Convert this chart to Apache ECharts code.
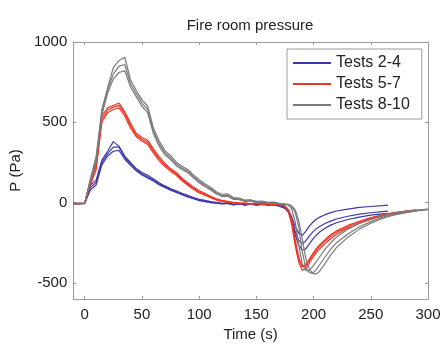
<!DOCTYPE html>
<html>
<head>
<meta charset="utf-8">
<script src="https://cdn.jsdelivr.net/npm/echarts@6/dist/echarts.min.js"></script>
<style>
  html, body { margin: 0; padding: 0; background: #fff; }
  #chart { width: 445px; height: 347px; }
</style>
</head>
<body>
<div id="chart"></div>
<script>
// sample times (s)
const times = [-10, -5, 0, 5, 10, 15, 20, 25, 30, 35, 40, 45, 50, 55, 60, 65, 70, 75, 80, 85,
  90, 95, 100, 105, 110, 115, 120, 125, 130, 135, 140, 145, 150, 155, 160, 165, 170, 175,
  178, 181, 184, 187, 190, 193, 196, 199, 202, 205, 210, 215, 220, 230, 240, 250, 260, 265,
  270, 280, 290, 300]

// Tests 2-4 (blue), pressure in Pa
const blue1 = [-8, -8, -6, 110, 140, 265, 320, 380, 350, 290, 250, 212, 188, 170, 148, 124, 104, 88, 74, 58,
  46, 32, 20, 14, 6, 2, -4, -2, -10, -6, -12, -8, -14, -8, -16, -10, -18, -28,
  -45, -90, -150, -190, -205, -180, -150, -125, -105, -92, -75, -62, -52, -40, -30, -24, -19, -16]
const blue2 = [-6, -6, -4, 95, 125, 250, 305, 345, 345, 282, 242, 205, 180, 160, 140, 118, 98, 82, 68, 52,
  40, 28, 16, 10, 2, -2, -6, -6, -12, -8, -14, -10, -12, -10, -14, -12, -20, -32,
  -55, -110, -180, -235, -255, -240, -210, -185, -165, -150, -130, -115, -102, -85, -72, -63, -56, -53]
const blue3 = [-5, -5, -4, 80, 110, 235, 290, 320, 325, 270, 232, 198, 172, 154, 134, 112, 94, 78, 64, 50,
  36, 24, 12, 6, 0, -4, -8, -4, -14, -6, -16, -8, -16, -12, -12, -14, -22, -36,
  -60, -120, -200, -265, -295, -290, -260, -230, -205, -185, -160, -140, -125, -105, -90, -78, -70, -66]

// Tests 5-7 (red)
const red1 = [-6, -6, -4, 140, 240, 540, 590, 605, 620, 565, 495, 432, 405, 388, 335, 286, 244, 212, 188, 152,
  124, 98, 74, 58, 40, 24, 14, 8, 2, -2, -4, -6, -2, -8, -4, -10, -10, -20,
  -45, -110, -230, -340, -400, -395, -365, -330, -300, -275, -240, -210, -185, -150, -122, -98, -80, -72,
  -65, -55, -47]
const red2 = [-4, -4, -3, 125, 225, 520, 575, 595, 605, 555, 480, 420, 395, 375, 322, 274, 234, 204, 178, 144,
  116, 90, 66, 52, 34, 20, 10, 4, 0, -4, -2, -8, -4, -10, -6, -8, -12, -25,
  -55, -140, -270, -370, -420, -412, -380, -345, -315, -290, -255, -225, -198, -160, -130, -104, -85, -77,
  -70, -58, -50]
const red3 = [-7, -7, -5, 110, 205, 500, 560, 580, 590, 540, 465, 410, 384, 362, 310, 262, 224, 196, 170, 136,
  108, 84, 60, 46, 30, 16, 8, 2, -2, -6, -6, -10, -6, -12, -8, -12, -14, -22,
  -50, -125, -250, -350, -395, -385, -355, -320, -290, -265, -230, -200, -176, -142, -116, -93, -76, -69,
  -62, -52, -45]

// Tests 8-10 (grey)
const grey1 = [-6, -6, -4, 150, 290, 580, 715, 840, 885, 905, 765, 700, 640, 600, 465, 385, 325, 292, 252, 226,
  206, 172, 142, 118, 96, 68, 52, 54, 32, 28, 16, 18, 8, 10, 2, 4, -4, -8,
  -10, -25, -60, -150, -300, -400, -435, -440, -420, -390, -340, -290, -250, -195, -150, -118, -92, -82,
  -74, -60, -50, -42]
const grey2 = [-5, -5, -3, 140, 270, 565, 700, 800, 850, 860, 740, 680, 620, 580, 445, 368, 310, 280, 240, 216,
  196, 162, 132, 108, 86, 60, 44, 46, 26, 22, 12, 14, 4, 6, 0, 2, -6, -10,
  -15, -40, -120, -260, -380, -420, -425, -400, -370, -340, -290, -250, -215, -165, -128, -100, -80, -72,
  -65, -54, -46, -40]
const grey3 = [-7, -7, -5, 130, 250, 545, 680, 770, 810, 820, 720, 660, 600, 560, 430, 352, 298, 268, 230, 206,
  186, 154, 124, 100, 78, 54, 38, 40, 20, 18, 8, 10, 2, 2, -4, -2, -8, -12,
  -12, -20, -45, -110, -220, -340, -410, -440, -445, -430, -380, -325, -280, -215, -165, -128, -100, -88,
  -78, -64, -52, -44]

// axis ticks
const xTicks = [0, 50, 100, 150, 200, 250, 300]
const yTicks = [-500, 0, 500, 1000]

const groups = [
  {name: 'Tests 2-4', color: '#3d37aa', runs: [blue1, blue2, blue3]},
  {name: 'Tests 5-7', color: '#ee3524', runs: [red1, red2, red3]},
  {name: 'Tests 8-10', color: '#7a7a7a', runs: [grey1, grey2, grey3]},
]

const series = []
groups.forEach(g => {
  g.runs.forEach(run => {
    series.push({
      name: g.name,
      type: 'line',
      symbol: 'none',
      animation: false,
      lineStyle: {width: 1.2, color: g.color},
      itemStyle: {color: g.color},
      data: run.map((v, i) => [times[i], v]),
    })
  })
})

const textColor = '#222'
const frameColor = '#9a9a9a'

const axisX = (pos, showLabel) => ({
  type: 'value',
  position: pos,
  min: -10,
  max: 300,
  axisLine: {show: true, onZero: false, lineStyle: {color: frameColor, width: 1}},
  axisTick: {show: true, inside: true, length: 3, customValues: xTicks, lineStyle: {color: frameColor}},
  axisLabel: {show: showLabel, customValues: xTicks, color: textColor, fontSize: 15, margin: 8,
    fontFamily: 'Liberation Sans'},
  splitLine: {show: false},
})

const axisY = (pos, showLabel) => ({
  type: 'value',
  position: pos,
  min: -600,
  max: 1000,
  axisLine: {show: true, onZero: false, lineStyle: {color: frameColor, width: 1}},
  axisTick: {show: true, inside: true, length: 3, customValues: yTicks, lineStyle: {color: frameColor}},
  axisLabel: {show: showLabel, customValues: yTicks, color: textColor, fontSize: 15, margin: 6,
    fontFamily: 'Liberation Sans', formatter: v => String(v)},
  splitLine: {show: false},
})

const chart = echarts.init(document.getElementById('chart'))

chart.setOption({
  backgroundColor: '#fff',
  animation: false,
  title: {
    text: 'Fire room pressure',
    left: 250,
    top: 18,
    padding: 0,
    textAlign: 'center',
    textStyle: {fontSize: 15, fontWeight: 'normal', color: textColor, fontFamily: 'Liberation Sans'},
  },
  grid: {left: 72, right: 17, top: 42, bottom: 41, containLabel: false},
  legend: {
    orient: 'vertical',
    left: 287,
    top: 49,
    padding: [6, 12, 6, 6],
    backgroundColor: '#fff',
    borderColor: frameColor,
    borderWidth: 1,
    icon: 'rect',
    itemWidth: 38,
    itemHeight: 2,
    itemGap: 5,
    data: groups.map(g => g.name),
    textStyle: {fontSize: 16, color: textColor, fontFamily: 'Liberation Sans'},
  },
  xAxis: [
    {...axisX('bottom', true), name: 'Time (s)', nameLocation: 'middle', nameGap: 28,
      nameTextStyle: {fontSize: 15, color: textColor, fontFamily: 'Liberation Sans'}},
    axisX('top', false),
  ],
  yAxis: [
    {...axisY('left', true), name: 'P (Pa)', nameLocation: 'middle', nameGap: 50,
      nameTextStyle: {fontSize: 15, color: textColor, fontFamily: 'Liberation Sans'}},
    axisY('right', false),
  ],
  series: series,
})
</script>
</body>
</html>
